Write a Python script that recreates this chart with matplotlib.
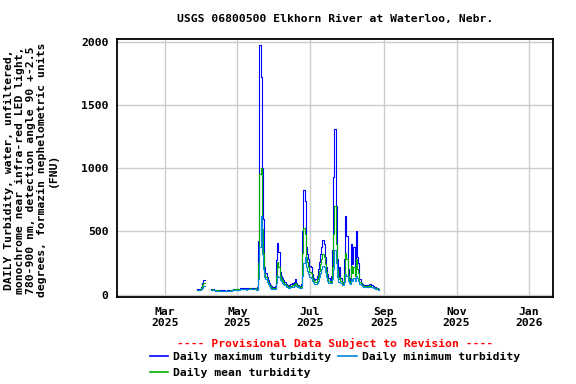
import matplotlib
matplotlib.use("Agg")
import matplotlib.pyplot as plt
import matplotlib.dates as mdates
from matplotlib.lines import Line2D
import numpy as np
import pandas as pd

# daily values, 2025-03-28 .. 2025-08-28 (NaN = no data)
start_date = "2025-03-28"
nan = np.nan

daily_max = ([45, 42, 40, 48, 60, 95, 119] + [nan] * 5 +
             [44, 48, 42, 40, 38, 36, 36, 35, 34, 34, 33, 33, 32, 32, 33, 34, 36, 38, 40, 42,
              44, 46, 45, 44, 46, 50, 52, 54, 52, 50, 48, 50, 54, 56, 52, 50, 52, 55] +
             [55, 60, 420, 1970, 1720, 1000, 600, 220, 170, 140, 115, 90, 75, 65, 58,         # May 17-31
              55, 65, 270, 410, 340, 180, 150, 130, 115, 98, 85, 75, 70, 72, 80,               # Jun 1-15
              90, 85, 100, 120, 95, 78, 70, 70, 80, 500, 830, 740, 380, 320, 280,              # Jun 16-30
              230, 220, 160, 130, 112, 120, 150, 200, 260, 320, 380, 435, 400, 300, 220,       # Jul 1-15
              160, 130, 115, 150, 350, 930, 1310, 700, 280, 150, 215, 130, 100, 95, 280, 620,  # Jul 16-31
              460, 200, 130, 110, 400, 240, 380, 200, 500, 300, 250, 120, 95, 85,              # Aug 1-14
              78, 74, 72, 70, 75, 82, 80, 72, 66, 62, 58, 55, 50, 48])                         # Aug 15-28

daily_mean = ([40, 38, 36, 42, 50, 75, 95] + [nan] * 5 +
              [40, 42, 38, 36, 35, 33, 33, 32, 31, 31, 30, 30, 29, 29, 30, 31, 33, 35, 37, 39,
               41, 42, 41, 40, 42, 45, 47, 48, 47, 45, 44, 45, 48, 50, 47, 45, 47, 49] +
              [47, 48, 250, 950, 1000, 520, 330, 170, 140, 115, 95, 78, 65, 56, 50,
               48, 52, 150, 260, 220, 145, 125, 112, 98, 85, 74, 66, 60, 62, 68,
               75, 72, 80, 95, 80, 68, 62, 62, 66, 330, 530, 480, 300, 260, 220,
               180, 170, 130, 115, 98, 100, 120, 150, 190, 240, 280, 320, 300, 240, 180,
               135, 110, 100, 110, 220, 480, 700, 400, 200, 120, 140, 105, 88, 84, 160, 330,
               280, 150, 110, 95, 230, 170, 220, 150, 280, 200, 170, 100, 84, 76,
               70, 67, 65, 63, 67, 72, 71, 64, 60, 56, 52, 50, 46, 44])

daily_min = ([36, 35, 33, 38, 44, 55, 70] + [nan] * 5 +
             [37, 38, 35, 33, 32, 30, 30, 29, 28, 28, 27, 27, 26, 26, 27, 28, 30, 32, 34, 36,
              37, 38, 37, 36, 38, 41, 43, 44, 43, 41, 40, 41, 44, 45, 42, 41, 43, 44] +
             [40, 40, 120, 380, 620, 320, 200, 140, 120, 100, 82, 68, 56, 48, 44,
              42, 44, 90, 150, 140, 115, 105, 95, 82, 72, 64, 57, 52, 54, 58,
              64, 62, 66, 75, 68, 60, 55, 55, 56, 150, 250, 300, 220, 190, 160,
              140, 130, 110, 100, 86, 85, 95, 110, 140, 170, 200, 230, 220, 180, 140,
              110, 95, 88, 90, 120, 200, 350, 250, 140, 100, 100, 88, 78, 75, 100, 160,
              150, 110, 92, 82, 120, 110, 130, 105, 150, 130, 110, 85, 74, 68,
              63, 60, 58, 57, 60, 64, 63, 58, 54, 50, 47, 45, 42, 40])

dates = pd.date_range(start_date, periods=len(daily_max), freq="D")

title = "USGS 06800500 Elkhorn River at Waterloo, Nebr."
ylabel = ("DAILY Turbidity, water, unfiltered,\nmonochrome near infra-red LED light,\n"
          "780-900 nm, detection angle 90 +-2.5\ndegrees, formazin nephelometric units\n(FNU)")
labels = ["Daily maximum turbidity", "Daily mean turbidity", "Daily minimum turbidity"]

plt.rcParams["font.family"] = "DejaVu Sans Mono"
plt.rcParams["font.weight"] = "bold"
fs = 8.2

fig = plt.figure(figsize=(5.76, 3.84), dpi=100)
ax = fig.add_axes([117 / 576, 1 - 297 / 384, 436 / 576, 258 / 384])

c_max, c_min, c_mean = "#0000ff", "#0088dd", "#00b000"
ax.plot(dates, daily_max, color=c_max, lw=0.8, drawstyle="steps-mid")
ax.plot(dates, daily_mean, color=c_mean, lw=0.8, drawstyle="steps-mid")
ax.plot(dates, daily_min, color=c_min, lw=0.8, drawstyle="steps-mid")

ax.set_xlim(pd.Timestamp("2025-01-20"), pd.Timestamp("2026-01-21"))
ax.set_ylim(-19, 2021)
ax.set_yticks([0, 500, 1000, 1500, 2000])
ax.xaxis.set_major_locator(mdates.MonthLocator(bymonth=[1, 3, 5, 7, 9, 11]))
ax.xaxis.set_major_formatter(mdates.DateFormatter("%b\n%Y"))
ax.tick_params(axis="x", length=0, labelsize=fs, pad=7)
ax.tick_params(axis="y", length=0, labelsize=fs, pad=6)
for lab in ax.get_xticklabels():
    lab.set_linespacing(1.1)
ax.grid(True, color="#cccccc", lw=1.0)
ax.set_axisbelow(True)
for s in ax.spines.values():
    s.set_linewidth(1.3)

cx = (117 + 553) / 2 / 576
fig.text(cx, 1 - 19 / 384, title, ha="center", va="center", fontsize=fs, fontweight="bold")
fig.text(31 / 576, 1 - 170 / 384, ylabel, rotation=90, ha="center", va="center",
         fontsize=fs, fontweight="bold", multialignment="center", linespacing=1.1)

# provisional-data note + legend
fig.text(cx, 1 - 343 / 384, "---- Provisional Data Subject to Revision ----", color="red",
         ha="center", va="center", fontsize=fs, fontweight="bold")
handles = [Line2D([], [], color=c_max, lw=1.2), Line2D([], [], color=c_mean, lw=1.2),
           Line2D([], [], color=c_min, lw=1.2)]
fig.legend(handles, labels, ncol=2, loc="upper center", bbox_to_anchor=(cx, 1 - 352 / 384),
           frameon=False, fontsize=fs, handlelength=1.6, handletextpad=0.45,
           columnspacing=0.6, labelspacing=0.55, borderpad=0, borderaxespad=0)

fig.savefig("out.png", dpi=100)
